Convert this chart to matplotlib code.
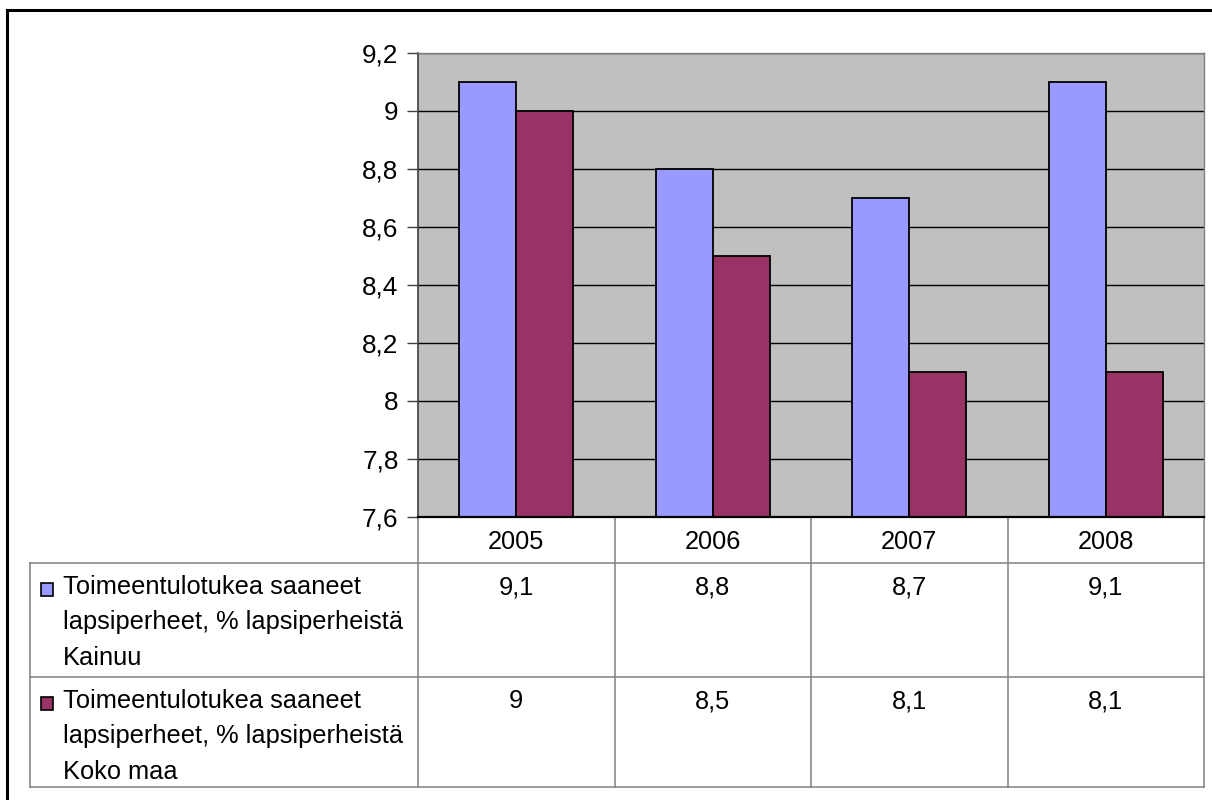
import matplotlib
matplotlib.use('Agg')
import matplotlib.pyplot as plt
from matplotlib.ticker import FixedLocator, FuncFormatter
from matplotlib.patches import Rectangle

# data
years = ['2005', '2006', '2007', '2008']
kainuu = [9.1, 8.8, 8.7, 9.1]
koko_maa = [9.0, 8.5, 8.1, 8.1]
series_labels = ['Toimeentulotukea saaneet\nlapsiperheet, % lapsiperheistä\nKainuu',
                 'Toimeentulotukea saaneet\nlapsiperheet, % lapsiperheistä\nKoko maa']
y_ticks = [7.6, 7.8, 8.0, 8.2, 8.4, 8.6, 8.8, 9.0, 9.2]

blue = '#9999FF'
maroon = '#993366'
grid_col = '#808080'
fs = 18.3

plt.rcParams['font.family'] = ['Liberation Sans', 'DejaVu Sans']

W, H = 1212, 800
fig = plt.figure(figsize=(W / 100, H / 100), dpi=100)

# plot area in pixels
px_l, px_r, px_t, px_b = 418, 1204, 52.5, 517
ax = fig.add_axes([px_l / W, 1 - px_b / H, (px_r - px_l) / W, (px_b - px_t) / H])
ax.set_facecolor('#C0C0C0')

x = list(range(len(years)))
bw = 0.29
ax.bar([i - bw / 2 for i in x], kainuu, width=bw, color=blue, edgecolor='black', linewidth=1.3, zorder=3)
ax.bar([i + bw / 2 for i in x], koko_maa, width=bw, color=maroon, edgecolor='black', linewidth=1.3, zorder=3)

ax.set_xlim(-0.5, len(years) - 0.5)
ax.set_ylim(7.6, 9.2)
ax.yaxis.set_major_locator(FixedLocator(y_ticks))
ax.yaxis.set_major_formatter(FuncFormatter(lambda v, p: ('%g' % round(v, 1)).replace('.', ',')))
ax.tick_params(axis='y', direction='out', length=8, width=1, color='#404040', labelsize=fs + 0.5, pad=6)
ax.set_xticks([])
ax.grid(axis='y', color='black', linewidth=1.0, zorder=1)
for s in ['top', 'right']:
    ax.spines[s].set_color(grid_col)
    ax.spines[s].set_linewidth(1)
ax.spines['left'].set_color('#404040')
ax.spines['left'].set_linewidth(1.2)
ax.spines['bottom'].set_color('black')
ax.spines['bottom'].set_linewidth(1.6)
ax.spines['bottom'].set_zorder(4)

# table and frame overlay in pixel coordinates
ov = fig.add_axes([0, 0, 1, 1], zorder=-1)
ov.set_xlim(0, W)
ov.set_ylim(H, 0)
ov.axis('off')

# outer frame (only top/left visible)
ov.plot([7, W], [10, 10], color='black', lw=2.2, solid_capstyle='projecting')
ov.plot([7, 7], [10, H], color='black', lw=2.2, solid_capstyle='projecting')

col_w = (px_r - px_l) / len(years)
tab_l = 30
row_y = [px_b, 563, 677, 787]
lw_t = 1.1

# horizontal lines
for yl in row_y[1:]:
    ov.plot([tab_l, px_r], [yl, yl], color=grid_col, lw=lw_t)
# vertical lines
for k in range(len(years) + 1):
    xv = px_l + k * col_w
    ov.plot([xv, xv], [row_y[0], row_y[3]], color=grid_col, lw=lw_t)
ov.plot([tab_l, tab_l], [row_y[1], row_y[3]], color=grid_col, lw=lw_t)

for k, yr in enumerate(years):
    ov.text(px_l + (k + 0.5) * col_w, (row_y[0] + row_y[1]) / 2 + 2, yr,
            ha='center', va='center', fontsize=fs)

for r, (vals, lab, col) in enumerate([(kainuu, series_labels[0], blue),
                                       (koko_maa, series_labels[1], maroon)]):
    top = row_y[r + 1]
    ov.add_patch(Rectangle((41, top + 20), 12, 13, facecolor=col, edgecolor='black', lw=1.2))
    ov.text(63, top + 12, lab, ha='left', va='top', fontsize=fs, linespacing=1.6)
    for k, v in enumerate(vals):
        ov.text(px_l + (k + 0.5) * col_w, top + 12, ('%g' % v).replace('.', ','),
                ha='center', va='top', fontsize=fs)

fig.savefig('out.png', dpi=100)
